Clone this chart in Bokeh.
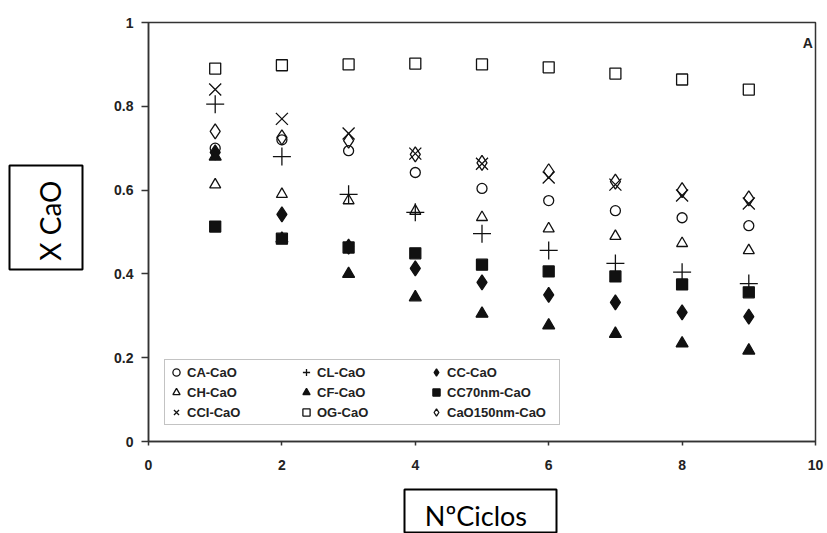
import math
from bokeh.plotting import figure
from bokeh.models import Legend, LegendItem, Label, FixedTicker, Spacer
from bokeh.layouts import row, column
from bokeh.embed import file_html
from bokeh.resources import INLINE

ciclos = [1, 2, 3, 4, 5, 6, 7, 8, 9]

ca_cao = [0.70, 0.72, 0.694, 0.642, 0.604, 0.575, 0.551, 0.534, 0.515]
cl_cao = [0.805, 0.68, 0.59, 0.547, 0.496, 0.456, 0.425, 0.404, 0.377]
cc_cao = [0.69, 0.542, 0.465, 0.413, 0.38, 0.35, 0.332, 0.308, 0.298]
ch_cao = [0.613, 0.59, 0.575, 0.55, 0.535, 0.508, 0.49, 0.473, 0.456]
cf_cao = [0.68, 0.484, 0.40, 0.344, 0.305, 0.277, 0.257, 0.234, 0.217]
cc70nm_cao = [0.513, 0.484, 0.463, 0.449, 0.422, 0.406, 0.394, 0.375, 0.356]
cci_cao = [0.84, 0.77, 0.735, 0.687, 0.663, 0.63, 0.613, 0.587, 0.568]
og_cao = [0.89, 0.898, 0.90, 0.902, 0.90, 0.893, 0.878, 0.864, 0.84]
cao150nm_cao = [0.74, 0.726, 0.718, 0.685, 0.665, 0.645, 0.62, 0.60, 0.58]

x_ticks = [0, 2, 4, 6, 8, 10]
y_ticks = [0, 0.2, 0.4, 0.6, 0.8, 1.0]
y_tick_labels = ["0", "0.2", "0.4", "0.6", "0.8", "1"]

x_title = "NºCiclos"
y_title = "X CaO"
panel_tag = "A"

p = figure(frame_width=667, frame_height=419,
           min_border_left=64, min_border_right=12,
           min_border_top=22, min_border_bottom=45,
           x_range=(0, 10), y_range=(0, 1),
           output_backend="svg", toolbar_location=None)

p.xgrid.visible = False
p.ygrid.visible = False
p.outline_line_color = "#333333"
p.outline_line_width = 1.5

for ax in (p.xaxis[0], p.yaxis[0]):
    ax.axis_line_color = "#333333"
    ax.axis_line_width = 1.5
    ax.major_tick_line_color = "#333333"
    ax.major_tick_line_width = 1.5
    ax.minor_tick_line_color = None
    ax.major_tick_in = 0
    ax.major_label_text_font = "Liberation Sans"
    ax.major_label_text_font_style = "bold"
    ax.major_label_text_font_size = "14px"
    ax.major_label_text_color = "#222222"

p.xaxis.ticker = FixedTicker(ticks=x_ticks)
p.xaxis.major_tick_out = 4
p.xaxis.major_label_standoff = 14
p.yaxis.ticker = FixedTicker(ticks=y_ticks)
p.yaxis.major_label_overrides = {t: l for t, l in zip(y_ticks, y_tick_labels)}
p.yaxis.major_tick_out = 7
p.yaxis.major_label_standoff = 8

ink = "#111111"
series = [
    ("CA-CaO", ca_cao, "circle", False, 10),
    ("CL-CaO", cl_cao, "cross", False, 18),
    ("CC-CaO", cc_cao, "diamond", True, 15),
    ("CH-CaO", ch_cao, "triangle", False, 11),
    ("CF-CaO", cf_cao, "triangle", True, 12),
    ("CC70nm-CaO", cc70nm_cao, "square", True, 11),
    ("CCI-CaO", cci_cao, "x", False, 17),
    ("OG-CaO", og_cao, "square", False, 11),
    ("CaO150nm-CaO", cao150nm_cao, "diamond", False, 15),
]

items = []
for name, vals, marker, filled, size in series:
    r = p.scatter(ciclos, vals, marker=marker, size=size,
                  line_color=ink, line_width=1.3,
                  fill_color=ink if filled else None)
    items.append(LegendItem(label=name, renderers=[r]))

legend = Legend(items=items, location=(16, 16), orientation="horizontal",
                ncols=3, padding=2, spacing=0, margin=0,
                glyph_width=18, glyph_height=20, label_height=20,
                label_standoff=2, label_width=110,
                label_text_font="Liberation Sans", label_text_font_style="bold",
                label_text_font_size="13px", label_text_color="#222222",
                border_line_color="#888888", border_line_width=1.5,
                background_fill_color="white")
p.add_layout(legend, "center")

p.add_layout(Label(x=9.96, y=0.952, text=panel_tag, text_align="right",
                   text_baseline="middle", text_font="Liberation Sans",
                   text_font_style="bold", text_font_size="14px",
                   text_color="#222222"))


def boxed(fw, fh, bl, br, bt, bb):
    f = figure(frame_width=fw, frame_height=fh,
               min_border_left=bl, min_border_right=br,
               min_border_top=bt, min_border_bottom=bb,
               x_range=(0, 1), y_range=(0, 1),
               x_axis_type=None, y_axis_type=None,
               output_backend="svg", toolbar_location=None)
    f.xgrid.visible = False
    f.ygrid.visible = False
    f.outline_line_color = "black"
    f.outline_line_width = 2
    return f


yfig = boxed(73, 104, 9, 2, 1, 2)
yfig.add_layout(Label(x=0.55, y=0.47, text=y_title, angle=math.pi / 2,
                      text_align="center", text_baseline="middle",
                      text_font="Lato", text_font_size="28px",
                      text_color="black"))

xfig = boxed(152, 44, 1, 2, 3, 0)
xfig.add_layout(Label(x=0.47, y=0.42, text=x_title,
                      text_align="center", text_baseline="alphabetic",
                      text_font="Lato", text_font_size="27px",
                      text_color="black"))

layout = row(
    column(Spacer(width=84, height=164), yfig),
    column(p, row(Spacer(width=319, height=47), xfig)),
)

open("out.html", "w").write(file_html(layout, INLINE))
